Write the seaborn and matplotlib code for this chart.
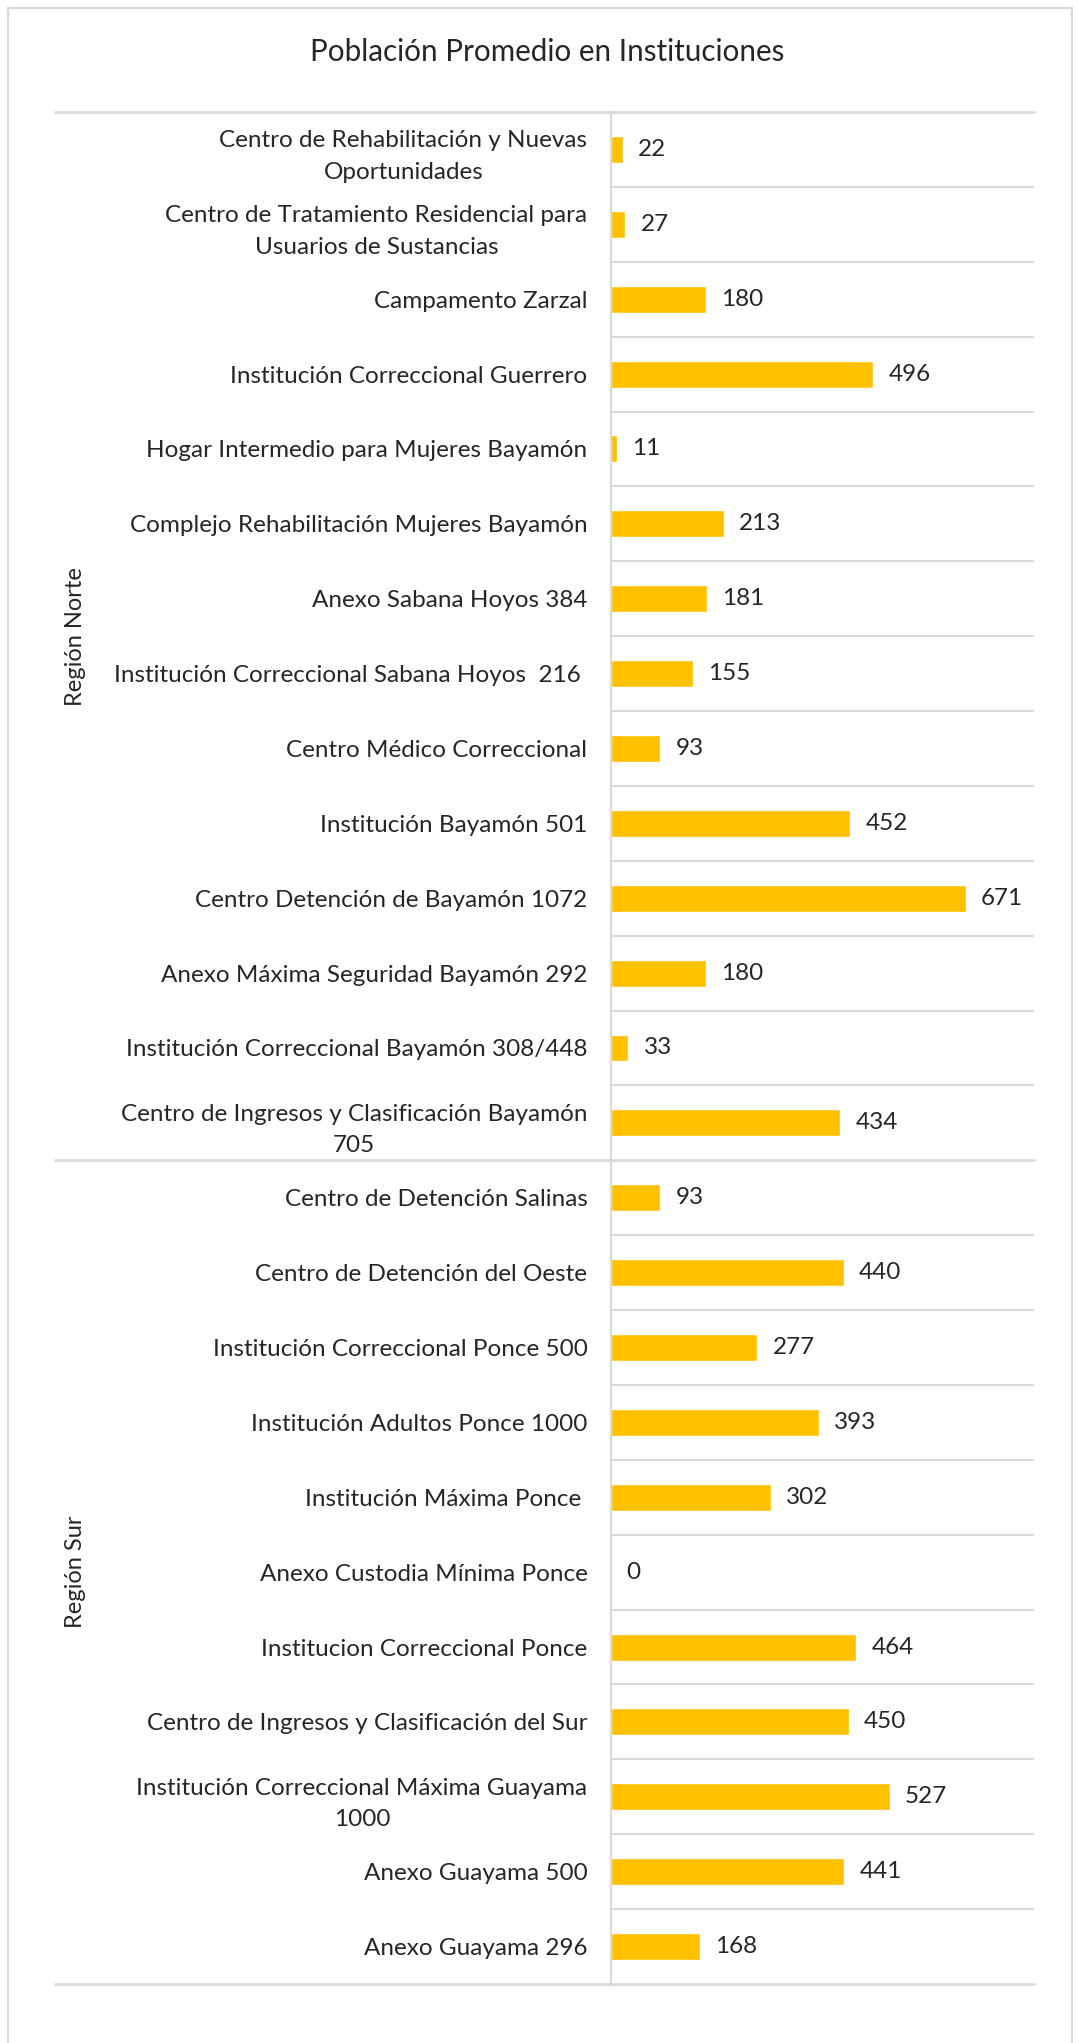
import pandas as pd
import matplotlib
matplotlib.use('Agg')
import matplotlib.pyplot as plt
import seaborn as sns

# Data
norte_labels = [
    "Centro de Rehabilitación y Nuevas\nOportunidades",
    "Centro de Tratamiento Residencial para\nUsuarios de Sustancias",
    "Campamento Zarzal",
    "Institución Correccional Guerrero",
    "Hogar Intermedio para Mujeres Bayamón",
    "Complejo Rehabilitación Mujeres Bayamón",
    "Anexo Sabana Hoyos 384",
    "Institución Correccional Sabana Hoyos  216 ",
    "Centro Médico Correccional",
    "Institución Bayamón 501",
    "Centro Detención de Bayamón 1072",
    "Anexo Máxima Seguridad Bayamón 292",
    "Institución Correccional Bayamón 308/448",
    "Centro de Ingresos y Clasificación Bayamón\n705",
]
norte_values = [22, 27, 180, 496, 11, 213, 181, 155, 93, 452, 671, 180, 33, 434]

sur_labels = [
    "Centro de Detención Salinas",
    "Centro de Detención del Oeste",
    "Institución Correccional Ponce 500",
    "Institución Adultos Ponce 1000",
    "Institución Máxima Ponce ",
    "Anexo Custodia Mínima Ponce",
    "Institucion Correccional Ponce",
    "Centro de Ingresos y Clasificación del Sur",
    "Institución Correccional Máxima Guayama\n1000",
    "Anexo Guayama 500",
    "Anexo Guayama 296",
]
sur_values = [93, 440, 277, 393, 302, 0, 464, 450, 527, 441, 168]

df = pd.DataFrame({
    'institucion': norte_labels + sur_labels,
    'poblacion': norte_values + sur_values,
    'region': ['Región Norte'] * len(norte_labels) + ['Región Sur'] * len(sur_labels),
})

sns.set_style('white')
plt.rcParams['font.family'] = ['Lato', 'DejaVu Sans']

W, H = 1078, 2043
fig = plt.figure(figsize=(W / 100, H / 100), dpi=100)

# axes placed in pixel terms of the reference
x0, x1, y0, y1 = 611, 1034, 112, 1984
ax = fig.add_axes([x0 / W, 1 - y1 / H, (x1 - x0) / W, (y1 - y0) / H])

sns.barplot(data=df, x='poblacion', y='institucion', orient='h',
            color='#FFC000', width=0.36, saturation=1, ax=ax)

ax.set_xlim(0, 800)
ax.set_ylim(len(df) - 0.5, -0.5)
ax.set_xlabel('')
ax.set_ylabel('')
ax.set_xticks([])
ax.tick_params(axis='y', length=0, pad=17, labelsize=17.5)
for lbl in ax.get_yticklabels():
    lbl.set_multialignment('center')
    lbl.set_linespacing(1.6)

for c in ax.containers:
    ax.bar_label(c, padding=11, fontsize=17.5)

grid = '#d9d9d9'
for s in ['top', 'right', 'bottom']:
    ax.spines[s].set_visible(False)
ax.spines['left'].set_color(grid)
ax.spines['left'].set_linewidth(1.5)

# row separators
ext = -(x0 - 55) / (x1 - x0)
n_norte = len(norte_labels)
for k in range(len(df) + 1):
    y = k - 0.5
    if k in (0, n_norte, len(df)):
        ax.axhline(y, xmin=ext, xmax=1, color=grid, lw=2, clip_on=False)
    else:
        ax.axhline(y, color=grid, lw=1.5)

# region labels
fig.text(75 / W, 1 - (y0 + (y1 - y0) * n_norte / len(df) / 2) / H, 'Región Norte',
         rotation=90, ha='center', va='center', fontsize=17)
fig.text(75 / W, 1 - (y0 + (y1 - y0) * (n_norte + len(sur_labels) / 2) / len(df)) / H, 'Región Sur',
         rotation=90, ha='center', va='center', fontsize=17)

fig.text(547 / W, 1 - 52 / H, 'Población Promedio en Instituciones',
         ha='center', va='center', fontsize=21.3)

# outer chart border
fig.add_artist(plt.Line2D([8 / W, 8 / W], [0, 1 - 8 / H], color=grid, lw=1.5))
fig.add_artist(plt.Line2D([8 / W, 1072 / W], [1 - 8 / H, 1 - 8 / H], color=grid, lw=1.5))
fig.add_artist(plt.Line2D([1072 / W, 1072 / W], [0, 1 - 8 / H], color=grid, lw=1.5))

fig.savefig('out.png', dpi=100, facecolor='white')
